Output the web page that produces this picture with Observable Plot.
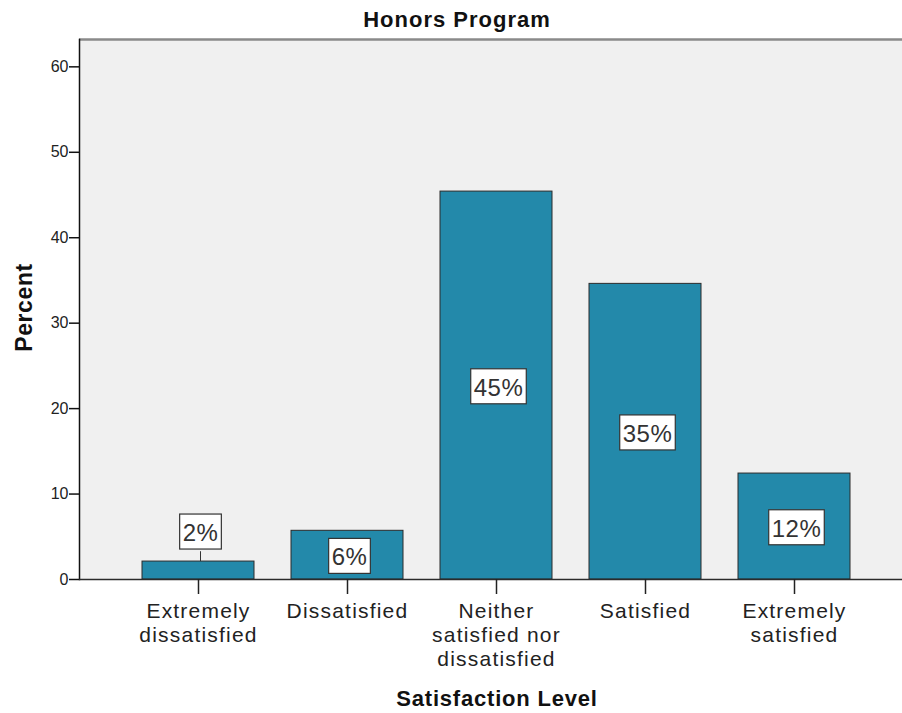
<!DOCTYPE html>
<html>
<head>
<meta charset="utf-8">
<script src="https://cdn.jsdelivr.net/npm/d3@7"></script>
<script src="https://cdn.jsdelivr.net/npm/@observablehq/plot@0.6"></script>
<style>
  html, body { margin: 0; padding: 0; background: #ffffff; }
  svg { display: block; font-family: Arial, "Liberation Sans", sans-serif; }
</style>
</head>
<body>
<div id="chart"></div>
<script>
const categories = ["Extremely dissatisfied", "Dissatisfied", "Neither satisfied nor dissatisfied", "Satisfied", "Extremely satisfied"];
const percents = [2.1, 5.7, 45.4, 34.6, 12.4];
const valueLabels = ["2%", "6%", "45%", "35%", "12%"];
const tickLabels = ["Extremely\ndissatisfied", "Dissatisfied", "Neither\nsatisfied nor\ndissatisfied", "Satisfied", "Extremely\nsatisfied"];
const yTicks = [0, 10, 20, 30, 40, 50, 60];
const title = "Honors Program";
const xTitle = "Satisfaction Level";
const yTitle = "Percent";

const data = categories.map((c, i) => ({cat: c, pct: percents[i], label: valueLabels[i]}));
const small = d => d.pct < 4;

const chart = Plot.plot({
  width: 902,
  height: 713,
  marginLeft: 79,
  marginRight: 0,
  marginTop: 39,
  marginBottom: 134,
  style: {background: "#ffffff", color: "#222", fontFamily: "Arial, 'Liberation Sans', sans-serif"},
  x: {domain: categories, paddingInner: 0.245, paddingOuter: 0.3715, align: 0.55, label: null},
  y: {domain: [0, 63.2], label: null},
  marks: [
    Plot.frame({fill: "#f0f0f0", stroke: null}),
    Plot.ruleY([63.2], {stroke: "#8a8a8a", strokeWidth: 2.5}),
    Plot.frame({anchor: "left", stroke: "#111", strokeWidth: 1.5}),
    Plot.barY(data, {x: "cat", y: "pct", fill: "#2389aa", stroke: "#2b2b2b", strokeWidth: 1}),
    Plot.ruleY([0], {stroke: "#2b2b2b", strokeWidth: 1.5}),
    Plot.axisY({ticks: yTicks, tickSize: 10, tickPadding: 1, fontSize: 16, stroke: "#111", strokeWidth: 1.5, fill: "#222"}),
    Plot.axisX({tickSize: 15, tickPadding: 7, fontSize: 21, stroke: "#222", strokeWidth: 1.5, fill: "#222", lineHeight: 1.13,
      tickFormat: c => tickLabels[categories.indexOf(c)]}),
    Plot.ruleX(data.filter(small), {x: "cat", y1: "pct", y2: d => d.pct + 1.15, dx: 2, stroke: "#333", strokeWidth: 1}),
    Plot.text(data, {x: "cat",
      y: d => small(d) ? d.pct + 3.3 : d.pct / 2 - 0.3,
      text: "label", fontSize: 24, fill: "#333", lineAnchor: "middle", dx: 2}),
    Plot.text([title], {frameAnchor: "top", textAnchor: "middle", dx: -34, dy: -20, lineAnchor: "middle", fontSize: 22, fontWeight: "bold", fill: "#111"}),
    Plot.text([xTitle], {frameAnchor: "bottom", textAnchor: "middle", dx: 6, dy: 119, lineAnchor: "middle", fontSize: 22, fontWeight: "bold", fill: "#111"}),
    Plot.text([yTitle], {frameAnchor: "left", textAnchor: "middle", dx: -55, dy: -2, rotate: -90, lineAnchor: "middle", fontSize: 23, fontWeight: "bold", fill: "#111"})
  ]
});
document.getElementById("chart").appendChild(chart);

// letter spacing to match the reference's wide text
const spacing = new Map([[title, "1px"], [xTitle, "0.8px"], [yTitle, "0.6px"]]);
chart.querySelectorAll("text").forEach(t => {
  const s = t.textContent;
  if (spacing.has(s)) t.style.letterSpacing = spacing.get(s);
});
chart.querySelectorAll('g[aria-label="x-axis tick label"] text, g[aria-label="x-axis tick label"] tspan').forEach(t => t.style.letterSpacing = "1.2px");

// white boxes behind the value labels
chart.querySelectorAll("text").forEach(t => {
  if (!valueLabels.includes(t.textContent)) return;
  t.style.letterSpacing = "0.5px";
  const bb = t.getBBox();
  const cy = bb.y + bb.height / 2 - 1;
  const r = document.createElementNS("http://www.w3.org/2000/svg", "rect");
  r.setAttribute("x", bb.x - 3);
  r.setAttribute("y", cy - 17.5);
  r.setAttribute("width", bb.width + 6);
  r.setAttribute("height", 35);
  r.setAttribute("fill", "#ffffff");
  r.setAttribute("stroke", "#333");
  r.setAttribute("stroke-width", 1.2);
  const tr = t.getAttribute("transform");
  if (tr) r.setAttribute("transform", tr);
  t.parentNode.insertBefore(r, t);
});
</script>
</body>
</html>
